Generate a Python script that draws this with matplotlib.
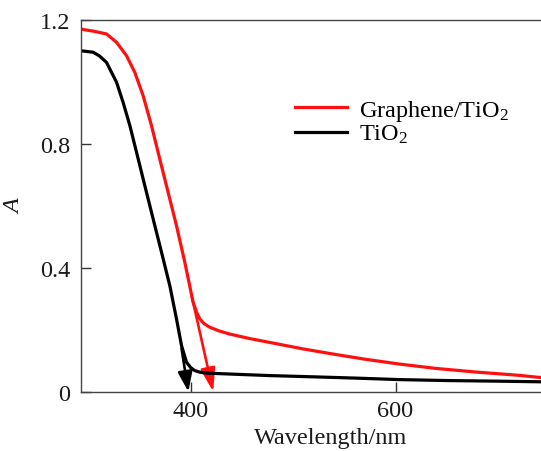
import matplotlib
matplotlib.use("Agg")
import matplotlib.pyplot as plt
from matplotlib.patches import FancyArrowPatch

# ---- data ----
red_x = [292, 305, 317.9, 327.7, 337.4, 345.5, 353.6, 361.8, 369.9, 378, 386.2, 394.3,
         402.4, 406, 409, 413, 418.7, 428, 438.3, 457, 477.3, 510, 540, 570, 604.2,
         640, 680, 720, 740.9, 781]
red_y = [1.171, 1.164, 1.155, 1.128, 1.085, 1.031, 0.956, 0.859, 0.751, 0.644, 0.536, 0.418,
         0.289, 0.255, 0.235, 0.220, 0.208, 0.196, 0.186, 0.172, 0.159, 0.138, 0.121, 0.105, 0.089,
         0.075, 0.063, 0.053, 0.046, 0.038]
blk_x = [292, 304.8, 311, 317.9, 327.7, 334.1, 340.7, 347.2, 355.3, 363.4, 371.6, 379.7,
         386.2, 391.1, 396, 400, 404.1, 409, 415.5, 438.3, 477.3, 520, 560, 604.2,
         650, 700, 740.9, 781]
blk_y = [1.101, 1.096, 1.084, 1.063, 0.999, 0.934, 0.859, 0.773, 0.665, 0.558, 0.450, 0.342,
         0.235, 0.149, 0.095, 0.078, 0.068, 0.063, 0.060, 0.057, 0.052, 0.048, 0.044, 0.039,
         0.036, 0.034, 0.032, 0.030]
red_tan_x = [401.0, 422.0]
red_tan_y = [0.310, 0.0]
blk_tan_x = [391.1, 397.8]
blk_tan_y = [0.140, 0.0]

labels = ["Graphene/TiO$_2$", "TiO$_2$"]
xticks = [400, 600]
yticks = [0, 0.4, 0.8, 1.2]
ytick_labels = ["0", "0.4", "0.8", "1.2"]

# ---- styling ----
plt.rcParams["font.family"] = ["Liberation Serif", "DejaVu Serif"]
plt.rcParams["mathtext.fontset"] = "custom"
plt.rcParams["mathtext.rm"] = "Liberation Serif"
plt.rcParams["mathtext.it"] = "Liberation Serif:italic"

FS = 17.5
RED = "#ff1010"
fig = plt.figure(figsize=(5.41, 4.52), dpi=100)
ax = fig.add_axes([81 / 541, (452 - 392.7) / 452, 500 / 541, (392.7 - 21) / 452])

l1, = ax.plot(red_x, red_y, color=RED, lw=2.3, solid_joinstyle="round", label=labels[0])
l2, = ax.plot(blk_x, blk_y, color="black", lw=2.3, solid_joinstyle="round", label=labels[1])

for tx, ty, col, hl, hw in [(red_tan_x, red_tan_y, RED, 1.35, 0.42),
                             (blk_tan_x, blk_tan_y, "black", 1.15, 0.42)]:
    arr = FancyArrowPatch((tx[0], ty[0]), (tx[1], ty[1]),
                          arrowstyle=f"-|>,head_length={hl},head_width={hw}",
                          mutation_scale=10.5, color=col, lw=1.9,
                          shrinkA=0, shrinkB=0, clip_on=False)
    ax.add_patch(arr)

ax.set_xlim(293, 781)
ax.set_ylim(0, 1.2)
ax.set_xticks(xticks)
ax.set_yticks(yticks)
ax.set_yticklabels(ytick_labels)
ax.tick_params(axis="both", direction="in", length=7.5, width=1.0, colors="#333333",
               labelsize=FS, labelcolor="#1a1a1a")
ax.tick_params(axis="y", pad=8)
ax.tick_params(axis="x", pad=6)

for s in ["left", "bottom", "top"]:
    ax.spines[s].set_color("#444444")
    ax.spines[s].set_linewidth(1.0)
ax.spines["right"].set_visible(False)

ax.set_xlabel("Wavelength/nm", fontsize=FS, color="#1a1a1a", labelpad=4)
ax.set_ylabel("A", fontsize=FS, fontstyle="italic", color="#1a1a1a", labelpad=10)

leg = ax.legend(handles=[l1, l2], loc="upper left",
                bbox_to_anchor=(295 / 541, (452 - 99) / 452), bbox_transform=fig.transFigure,
                frameon=False, fontsize=FS, handlelength=2.15, handletextpad=0.5,
                labelspacing=0.0, borderpad=0, borderaxespad=0)

fig.savefig("out.png", dpi=100)
